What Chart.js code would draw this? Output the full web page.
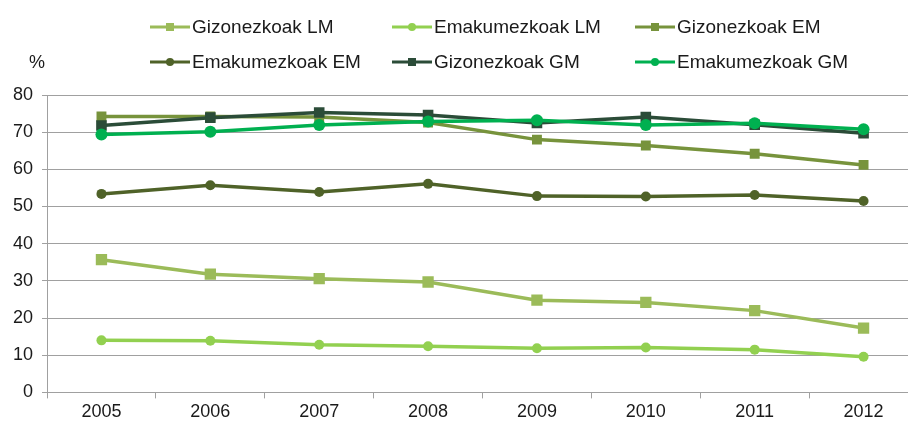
<!DOCTYPE html>
<html>
<head>
<meta charset="utf-8">
<script src="https://cdn.jsdelivr.net/npm/chart.js@4.4.0/dist/chart.umd.min.js"></script>
<style>
  body { margin: 0; background: #fff; overflow: hidden; }
  #wrap { position: relative; width: 926px; height: 425px; }
  #legend { position: absolute; left: 0; top: 0; width: 908px; height: 80px;
            font-family: "Liberation Sans", Arial, sans-serif; font-size: 19px; color: #1a1a1a; }
  .item { position: absolute; display: flex; align-items: center; height: 22px; white-space: nowrap; }
  .item canvas { margin-right: 2px; }
</style>
</head>
<body>
<div id="wrap">
  <canvas id="chart" width="926" height="425"></canvas>
  <div id="legend"></div>
</div>
<script>
    // Datuak
    const years = ['2005', '2006', '2007', '2008', '2009', '2010', '2011', '2012'];
    const seriesNames = ['Gizonezkoak LM', 'Emakumezkoak LM', 'Gizonezkoak EM',
                         'Emakumezkoak EM', 'Gizonezkoak GM', 'Emakumezkoak GM'];
    const gizonLM = [35.7, 31.8, 30.6, 29.7, 24.8, 24.2, 22.0, 17.3];
    const emakLM  = [14.0, 13.9, 12.8, 12.4, 11.9, 12.1, 11.5, 9.6];
    const gizonEM = [74.2, 74.2, 74.1, 72.6, 68.0, 66.4, 64.2, 61.2];
    const emakEM  = [53.4, 55.7, 53.9, 56.1, 52.8, 52.7, 53.1, 51.5];
    const gizonGM = [71.8, 73.9, 75.3, 74.6, 72.5, 74.1, 72.0, 69.7];
    const emakGM  = [69.4, 70.1, 71.9, 72.9, 73.2, 71.9, 72.4, 70.8];
    const yTicks = [0, 10, 20, 30, 40, 50, 60, 70, 80];

    const colors  = ['#9BBB59', '#92D050', '#77933C', '#4F6228', '#2B4C38', '#00B050'];
    const markers = ['rect', 'circle', 'rect', 'circle', 'rect', 'circle'];
    const radii   = [8, 5, 7, 5, 7.5, 6];
    const values  = [gizonLM, emakLM, gizonEM, emakEM, gizonGM, emakGM];

    const datasets = seriesNames.map((name, i) => ({
        label: name,
        data: values[i],
        borderColor: colors[i],
        backgroundColor: colors[i],
        borderWidth: 3.5,
        pointStyle: markers[i],
        pointRadius: radii[i],
        pointBorderWidth: 0,
        order: -i, // azken seriea gainean
        tension: 0
    }));

    // "%" testua ardatzaren gainean
    const percentLabel = {
        id: 'percentLabel',
        afterDraw(chart) {
            const ctx = chart.ctx;
            ctx.save();
            ctx.font = '18px "Liberation Sans", Arial, sans-serif';
            ctx.fillStyle = '#1a1a1a';
            ctx.textAlign = 'center';
            ctx.textBaseline = 'middle';
            ctx.fillText('%', 37, 63);
            ctx.restore();
        }
    };

    const chart = new Chart(document.getElementById('chart').getContext('2d'), {
        type: 'line',
        data: { labels: years, datasets: datasets },
        options: {
            responsive: false,
            animation: false,
            layout: { padding: { top: 95, left: 4, right: 4, bottom: 0 } },
            plugins: { legend: { display: false }, tooltip: { enabled: false } },
            scales: {
                x: {
                    offset: true,
                    grid: { offset: true, drawOnChartArea: false, color: '#A0A0A0', tickLength: 6 },
                    border: { color: '#A0A0A0' },
                    ticks: { color: '#1a1a1a', padding: 2.5,
                             font: { family: '"Liberation Sans", Arial, sans-serif', size: 18 } }
                },
                y: {
                    min: 0,
                    max: 80,
                    afterBuildTicks(axis) { axis.ticks = yTicks.map(v => ({ value: v })); },
                    grid: { color: '#A0A0A0', tickLength: 5 },
                    border: { color: '#A0A0A0' },
                    ticks: { color: '#1a1a1a', padding: 9,
                             font: { family: '"Liberation Sans", Arial, sans-serif', size: 18 } }
                }
            }
        },
        plugins: [percentLabel]
    });

    // Legenda: lerroa + markatzailea
    const colX = [150, 392, 635];
    const rowY = [27, 62];
    const legend = document.getElementById('legend');
    seriesNames.forEach((name, i) => {
        const item = document.createElement('div');
        item.className = 'item';
        item.style.left = colX[i % 3] + 'px';
        item.style.top = (rowY[Math.floor(i / 3)] - 11) + 'px';
        const sw = document.createElement('canvas');
        sw.width = 40; sw.height = 14;
        const c = sw.getContext('2d');
        c.strokeStyle = colors[i];
        c.fillStyle = colors[i];
        c.lineWidth = 3;
        c.beginPath(); c.moveTo(0, 7); c.lineTo(40, 7); c.stroke();
        if (markers[i] === 'rect') {
            c.fillRect(16, 3, 8, 8);
        } else {
            c.beginPath(); c.arc(20, 7, 4, 0, Math.PI * 2); c.fill();
        }
        const txt = document.createElement('span');
        txt.textContent = name;
        item.appendChild(sw);
        item.appendChild(txt);
        legend.appendChild(item);
    });
</script>
</body>
</html>
